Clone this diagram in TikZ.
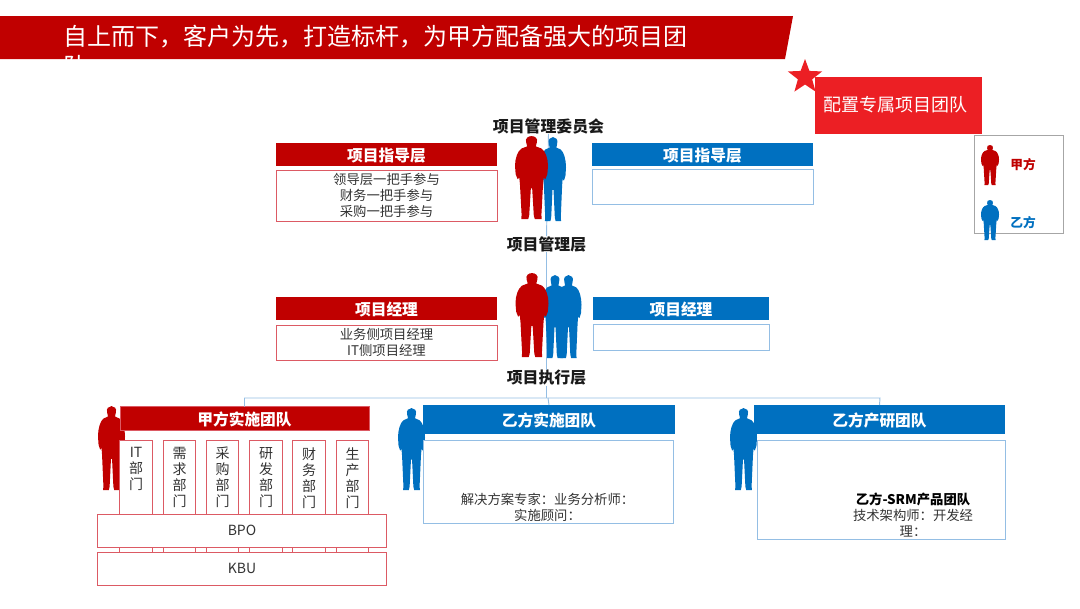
\documentclass[tikz,border=0pt]{standalone}
\usepackage{fontspec}
\setmainfont{Noto Sans CJK SC}
\usetikzlibrary{shapes.geometric}
\definecolor{cred}{HTML}{C00000}
\definecolor{cblue}{HTML}{0070C0}
\definecolor{credline}{HTML}{DC5A64}
\definecolor{cblueline}{HTML}{94BEE4}
\definecolor{cbright}{HTML}{EC1F24}
\definecolor{ctext}{HTML}{333333}
\tikzset{
  x=0.75pt,y=-0.75pt,
  sz/.style 2 args={minimum width=#1*0.75pt,minimum height=#2*0.75pt,inner sep=0pt,outer sep=0pt},
  hdrR/.style={fill=cred,text=white,text depth=0pt,font=\bfseries\fontsize{11.8}{13}\selectfont},
  hdrB/.style={fill=cblue,text=white,text depth=0pt,font=\bfseries\fontsize{11.8}{13}\selectfont},
  bodyR/.style={draw=credline,fill=white,line width=0.6pt,text=ctext,align=center,font=\fontsize{10}{12}\selectfont},
  bodyB/.style={draw=cblueline,fill=white,line width=0.6pt,text=ctext,align=center,font=\fontsize{10}{12}\selectfont},
  level/.style={inner sep=0pt,text=black!90,font=\bfseries\fontsize{11.9}{13}\selectfont},
  link/.style={draw=cblueline,line width=0.7pt},
  coltxt/.style={anchor=north,inner sep=0pt,align=center,text=ctext,font=\fontsize{10.5}{12}\selectfont},
  person/.pic={
    \fill[pic actions]
      (-.16,.08) .. controls (-.25,-.025) and (.25,-.025) .. (.16,.08)
      -- (.13,.125) -- (.3,.15) .. controls (.42,.18) and (.5,.27) .. (.5,.36)
      -- (.48,.46) -- (.42,.52) -- (.37,.5) -- (.35,.58) -- (.3,.95)
      -- (.31,1) -- (.1,1) -- (.07,.96) -- (.02,.63) -- (-.02,.63) -- (-.07,.96) -- (-.1,1) -- (-.31,1) -- (-.3,.95)
      -- (-.35,.58) -- (-.37,.5) -- (-.42,.52) -- (-.48,.46) -- (-.5,.36)
      .. controls (-.5,.27) and (-.42,.18) .. (-.3,.15)
      -- (-.13,.125) -- cycle;
  },
}
\begin{document}
\begin{tikzpicture}
\useasboundingbox (0,0) rectangle (1080,608);
% title banner
\fill[cred] (0,16) -- (793,16) -- (785,59) -- (0,59) -- cycle;
\node[anchor=north west,inner sep=0pt,text=white,align=left,font=\fontsize{18}{22.5}\selectfont] (title) at (63.5,25)
  {自上而下，客户为先，打造标杆，为甲方配备强大的项目团\\队};
% dedicated team badge
\node[fill=cbright,sz={167}{57}] (badge) at (898,105) {};
\node[inner sep=0pt,text=white,font=\fontsize{13.5}{16}\selectfont] (badgetext) at (895,105) {配置专属项目团队};
\node[star,star points=5,star point ratio=2.4,fill=cbright,inner sep=0pt,minimum size=36*0.75pt] (starmark) at (805,77) {};
% legend
\node[draw=black!35,fill=white,line width=0.7pt,sz={89}{98}] (legend) at (1018.5,184) {};
\pic[fill=cred,xscale=18,yscale=40] at (990,145) {person};
\pic[fill=cblue,xscale=18,yscale=40] at (990,200) {person};
\node[inner sep=0pt,text=cred,font=\bfseries\fontsize{9.5}{11}\selectfont] (legA) at (1023,165) {甲方};
\node[inner sep=0pt,text=cblue,font=\bfseries\fontsize{9.5}{11}\selectfont] (legB) at (1023,223) {乙方};
% level labels
\node[level] (cmt) at (548.5,126) {项目管理委员会};
\node[level] (mgr) at (546.5,244) {项目管理层};
\node[level] (exe) at (546.5,378) {项目执行层};
% connectors
\coordinate (busL) at (244.5,398);
\coordinate (busM) at (548,398);
\coordinate (busR) at (880,398);
\draw[link] (cmt.south) -- (mgr.north);
\draw[link] (mgr.south) -- (exe.north);
\draw[link] (exe.south) -- (exe.south|-busM);
% steering layer
\pic[fill=cblue,xscale=26,yscale=84] at (553,137) {person};
\pic[fill=cred,xscale=33,yscale=83] at (531.5,136) {person};
\node[hdrR,sz={221}{23}] (guideA) at (386.5,154.5) {\raisebox{-0.6pt}{项目指导层}};
\node[bodyR,sz={221}{51}] (guideAb) at (386.5,195.5) {\raisebox{-1pt}{领导层一把手参与}\\\raisebox{-1pt}{财务一把手参与}\\\raisebox{-1pt}{采购一把手参与}};
\node[hdrB,sz={221}{23}] (guideB) at (702.5,154.5) {\raisebox{-0.6pt}{项目指导层}};
\node[bodyB,sz={221}{35}] (guideBb) at (702.5,186.5) {};
% manager layer
\pic[fill=cblue,xscale=26,yscale=83] at (568.5,275) {person};
\pic[fill=cblue,xscale=26,yscale=83] at (555,275) {person};
\pic[fill=cred,xscale=33,yscale=84] at (532,273) {person};
\node[hdrR,sz={221}{23}] (pmA) at (386.5,308.5) {\raisebox{-0.6pt}{项目经理}};
\node[bodyR,sz={221}{35}] (pmAb) at (386.5,342.5) {\raisebox{-0.6pt}{业务侧项目经理}\\\raisebox{-0.6pt}{IT侧项目经理}};
\node[hdrB,sz={176}{23}] (pmB) at (681,308.5) {\raisebox{-0.6pt}{项目经理}};
\node[bodyB,sz={176}{26}] (pmBb) at (681,337) {};
% team A
\pic[fill=cred,xscale=27,yscale=84] at (111.5,406) {person};
\foreach \n/\cx/\t in {d1/136/{IT\\部\\门},d2/179.5/{需\\求\\部\\门},d3/222.5/{采\\购\\部\\门},d4/266/{研\\发\\部\\门},d5/309/{财\\务\\部\\门},d6/352.5/{生\\产\\部\\门}}{
  \node[draw=credline,fill=white,line width=0.6pt,sz={32.5}{112}] (\n) at (\cx,496) {};
  \node[coltxt] (\n t) at (\cx,447) {\t};
}
\node[bodyR,sz={289}{33},font=\fontsize{10.5}{12}\selectfont] (bpo) at (242,530.5) {\raisebox{-0.6pt}{BPO}};
\node[bodyR,sz={289}{33},font=\fontsize{10.5}{12}\selectfont] (kbu) at (242,568.5) {\raisebox{-0.6pt}{KBU}};
\node[hdrR,draw=credline,line width=0.6pt,sz={249}{24}] (teamA) at (244.5,418.5) {甲方实施团队};
% team B
\pic[fill=cblue,xscale=27,yscale=82] at (411.5,408) {person};
\node[bodyB,sz={250}{83}] (teamBb) at (548,481.5) {};
\node[inner sep=0pt,align=center,text=ctext,font=\fontsize{10}{12}\selectfont] (teamBt) at (547.5,507) {解决方案专家：业务分析师：\\实施顾问：};
\node[hdrB,sz={252}{29}] (teamB) at (549,419.5) {乙方实施团队};
% team C
\pic[fill=cblue,xscale=27,yscale=82] at (743.5,408) {person};
\node[bodyB,sz={248}{99}] (teamCb) at (881,489.5) {};
\node[inner sep=0pt,align=center,text=ctext,font=\fontsize{10}{12}\selectfont] (teamCt) at (913,515) {{\bfseries\color{black}乙方-SRM产品团队}\\技术架构师：开发经\\理：};
\node[hdrB,sz={251}{29}] (teamC) at (879.5,419.5) {乙方产研团队};
% bus
\draw[link] (teamA.north) -- (busL) -- (busR) -- (teamC.north);
\draw[link] (busM) -- (teamB.north);
\end{tikzpicture}
\end{document}
